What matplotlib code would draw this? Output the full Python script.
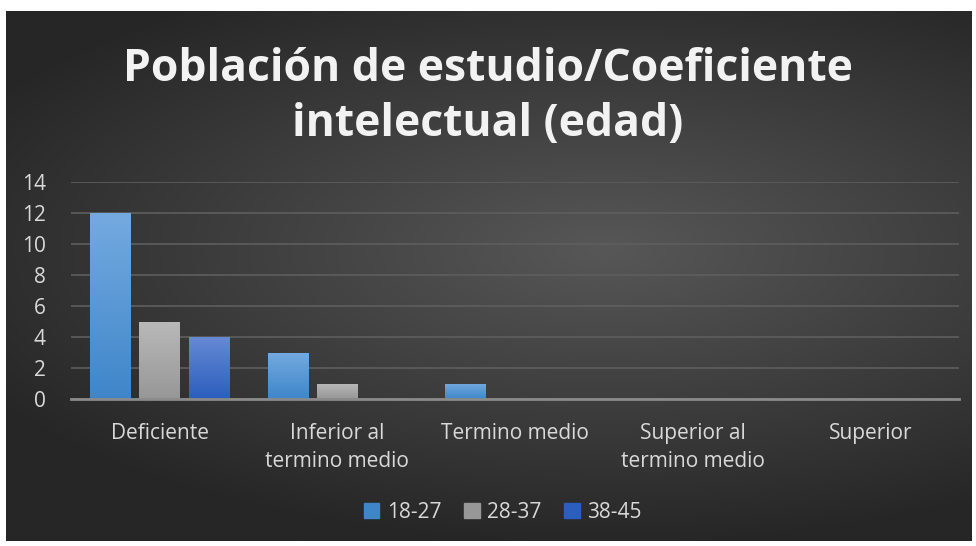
import numpy as np
import matplotlib
matplotlib.use('Agg')
import matplotlib.pyplot as plt
from matplotlib.colors import LinearSegmentedColormap

categories = ['Deficiente', 'Inferior al\ntermino medio', 'Termino medio',
              'Superior al\ntermino medio', 'Superior']
series_labels = ['18-27', '28-37', '38-45']
v_18_27 = [12, 3, 1, 0, 0]
v_28_37 = [5, 1, 0, 0, 0]
v_38_45 = [4, 0, 0, 0, 0]
yticks = [0, 2, 4, 6, 8, 10, 12, 14]

series = [v_18_27, v_28_37, v_38_45]
# (top colour, bottom colour) for each series' gradient
grads = [('#74aae0', '#3f86c9'), ('#b9b9b9', '#979797'), ('#6689d4', '#2c5ebe')]

plt.rcParams['font.family'] = ['Open Sans', 'DejaVu Sans']

fig = plt.figure(figsize=(9.76, 5.46), dpi=100)
fig.patch.set_facecolor('white')

# dark radial background
bg = fig.add_axes([6/976, 5/546, 966/976, 530/546])
bg.set_axis_off()
yy, xx = np.mgrid[0:1:300j, 0:1:500j]
r = np.sqrt(((xx - 0.62) / 1.0) ** 2 + ((yy - 0.45) / 0.75) ** 2)
r = np.clip(r / 0.75, 0, 1)
bg_cmap = LinearSegmentedColormap.from_list('bg', ['#575757', '#262626'])
bg.imshow(r, cmap=bg_cmap, aspect='auto', extent=[0, 1, 0, 1], interpolation='bilinear')
bg.set_xlim(0, 1)
bg.set_ylim(0, 1)

ax = fig.add_axes([71/976, (546-399)/546, 888/976, 217/546])
ax.patch.set_alpha(0)

x = np.arange(len(categories))
w = 0.23
step = 0.278
for i, (vals, (c_top, c_bot)) in enumerate(zip(series, grads)):
    bars = ax.bar(x + (i - 1) * step, vals, w, color=c_bot, label=series_labels[i], zorder=3)
    cm = LinearSegmentedColormap.from_list('g%d' % i, [c_bot, c_top])
    for b in bars:
        if b.get_height() <= 0:
            continue
        x0, y0 = b.get_x(), b.get_y()
        grad = np.linspace(0, 1, 100).reshape(-1, 1)
        im = ax.imshow(grad, cmap=cm, origin='lower', aspect='auto',
                       extent=[x0, x0 + b.get_width(), y0, y0 + b.get_height()],
                       zorder=3.5)
        im.set_clip_path(b)

ax.set_xlim(-0.5, len(categories) - 0.5)
ax.set_ylim(0, 14)
ax.set_yticks(yticks)
ax.set_xticks(x)
ax.set_xticklabels(categories, linespacing=1.45)
ax.tick_params(axis='both', length=0, colors='#d9d9d9', labelsize=15)
ax.tick_params(axis='x', pad=17)
ax.tick_params(axis='y', pad=18)
for lbl in ax.get_yticklabels():
    lbl.set_horizontalalignment('right')
ax.yaxis.grid(True, color='#5e5e5e', linewidth=1.2, zorder=0)
ax.set_axisbelow(True)
for s in ['top', 'right', 'left']:
    ax.spines[s].set_visible(False)
ax.spines['bottom'].set_color('#8a8a8a')
ax.spines['bottom'].set_linewidth(2)
ax.spines['bottom'].set_zorder(4)

fig.text(0.5, 0.822, 'Población de estudio/Coeficiente\nintelectual (edad)',
         ha='center', va='center', fontsize=32, fontweight='bold',
         color='#f2f2f2', linespacing=1.3)

leg = fig.legend(loc='center', bbox_to_anchor=(0.515, 0.062), ncol=3, frameon=False,
                 fontsize=15, handlelength=0.75, handleheight=0.75, handletextpad=0.35,
                 columnspacing=1.1)
for t in leg.get_texts():
    t.set_color('#d9d9d9')
for h, (c_top, c_bot) in zip(leg.legend_handles, grads):
    h.set_color(c_bot)

fig.savefig('out.png', dpi=100, facecolor=fig.get_facecolor())
